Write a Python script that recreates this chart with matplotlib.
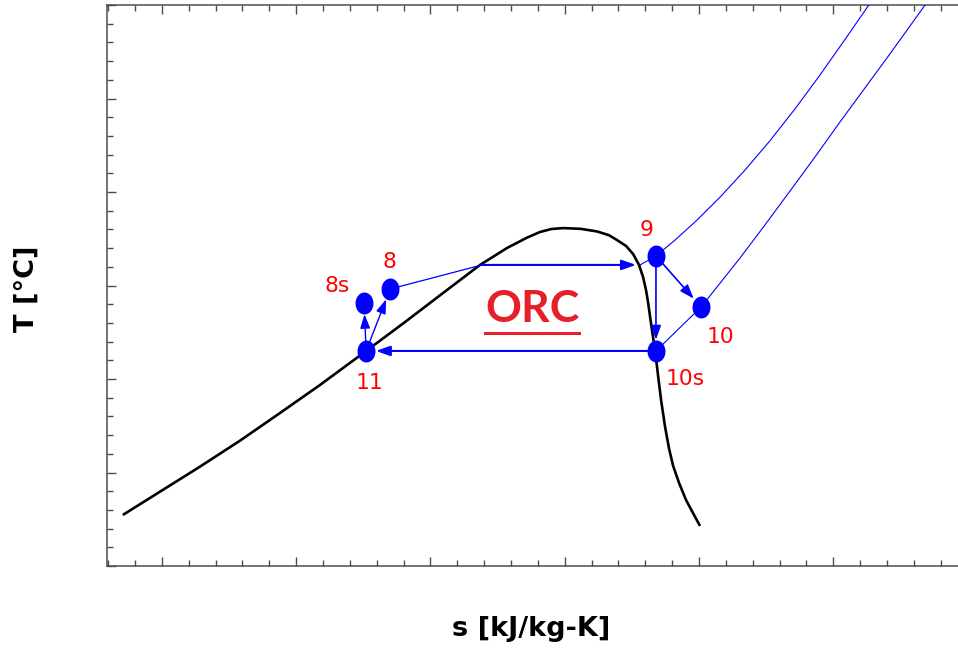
import numpy as np
import matplotlib
matplotlib.use("Agg")
import matplotlib.pyplot as plt
from matplotlib.path import Path
from matplotlib.lines import Line2D
from matplotlib.ticker import FixedLocator, MultipleLocator

# Saturation dome of the working fluid (s in kJ/kg-K, T in degC)
dome_s = [0.355, 0.494, 0.643, 0.792, 0.940, 1.089, 1.261, 1.406, 1.562, 1.685,
          1.786, 1.860, 1.908, 1.950, 1.994, 2.060, 2.121, 2.165, 2.195, 2.229,
          2.255, 2.277, 2.292, 2.303, 2.311, 2.325, 2.337, 2.348, 2.359, 2.374,
          2.389, 2.404, 2.426, 2.452, 2.478, 2.504]
dome_T = [27.3, 39.8, 53.2, 67.1, 81.8, 96.8, 115.0, 130.5, 147.6, 161.0,
          170.1, 175.6, 178.6, 180.2, 180.7, 180.3, 178.9, 176.9, 174.3, 171.1,
          166.8, 161.0, 154.5, 147.6, 140.6, 126.2, 115.0, 101.6, 88.8, 74.3,
          62.6, 53.5, 44.4, 35.3, 28.3, 21.4]

# Cycle state points
states = ["8s", "8", "9", "10", "10s", "11"]
state_s = [1.253, 1.350, 2.340, 2.508, 2.340, 1.261]
state_T = [140.6, 148.1, 165.8, 138.5, 115.0, 115.0]

# Evaporator pressure: saturated liquid / saturated vapour points
evap_s = [1.692, 2.281]
evap_T = [161.0, 161.0]

# High-pressure isobar in the superheated region, from sat. vapour through 9
hp_s = [2.281, 2.340, 2.411, 2.493, 2.579, 2.672, 2.765, 2.858, 2.951, 3.044,
        3.137, 3.159]
hp_T = [161.0, 165.8, 174.3, 185.0, 197.3, 211.8, 227.5, 244.5, 262.6, 281.6,
        300.9, 305.3]

# Condenser-pressure isobar from 10s through 10 into the superheated region
lp_s = [2.340, 2.508, 2.579, 2.653, 2.746, 2.839, 2.932, 3.025, 3.118, 3.211,
        3.342, 3.368]
lp_T = [115.0, 138.5, 151.3, 164.7, 182.4, 200.5, 218.7, 237.4, 255.6, 273.8,
        300.0, 305.3]

x_major = [0.5, 1.0, 1.5, 2.0, 2.5, 3.0, 3.5]

BLUE = "#0000FF"
RED = "#FF0000"
ORC_RED = "#E6202A"

fig = plt.figure(figsize=(9.58, 6.48), dpi=100)
W, H = 958, 648
ax = fig.add_axes([107 / W, (H - 566) / H, (967.5 - 107) / W, (566 - 5) / H])
ax.set_xlim(0.296, 3.5)
ax.set_ylim(0, 300)

# Axis frame and ticks
for sp in ax.spines.values():
    sp.set_color("#4d4d4d")
    sp.set_linewidth(1.1)
ax.xaxis.set_major_locator(FixedLocator(x_major))
ax.xaxis.set_minor_locator(MultipleLocator(0.1))
ax.yaxis.set_major_locator(MultipleLocator(50))
ax.yaxis.set_minor_locator(MultipleLocator(10))
ax.tick_params(which="both", direction="in", top=True, right=True,
               labelbottom=False, labelleft=False, color="#4d4d4d", width=1.0)
ax.tick_params(which="major", length=6.5)
ax.tick_params(which="minor", length=4.3)

ax.set_xlabel("s [kJ/kg-K]", fontsize=19.5, fontweight="bold", family="DejaVu Sans")
ax.set_ylabel("T [°C]", fontsize=19.5, fontweight="bold", family="DejaVu Sans")
ax.xaxis.label.set_va("center")
ax.yaxis.label.set_va("center")
ax.xaxis.set_label_coords((531 - 107) / 860.5, (566 - 629) / 561)
ax.yaxis.set_label_coords((27 - 107) / 860.5, (566 - 289) / 561)

# Saturation dome
ax.plot(dome_s, dome_T, color="black", lw=1.9, solid_capstyle="butt",
        solid_joinstyle="round", zorder=3)

# Pump exit -> saturated liquid (liquid heating)
ax.plot([state_s[1], evap_s[0]], [state_T[1], evap_T[0]], color=BLUE, lw=0.9, zorder=4)
# Superheated portions of both isobars
ax.plot(hp_s, hp_T, color=BLUE, lw=0.8, zorder=4, solid_joinstyle="round")
ax.plot(lp_s, lp_T, color=BLUE, lw=0.8, zorder=4, solid_joinstyle="round")


def arrow(s0, T0, s1, T1, lw=1.0, shrinkB=8):
    ax.annotate("", xy=(s1, T1), xytext=(s0, T0),
                arrowprops=dict(arrowstyle="-|>,head_length=0.85,head_width=0.3",
                                color=BLUE, lw=lw, shrinkA=0, shrinkB=shrinkB,
                                mutation_scale=10),
                zorder=5)


pt = dict(zip(states, zip(state_s, state_T)))
# Evaporation
arrow(evap_s[0], evap_T[0], evap_s[1], evap_T[1], lw=1.5, shrinkB=3)
# Pumps (isentropic and actual)
arrow(*pt["11"], *pt["8s"], lw=1.0, shrinkB=8)
arrow(*pt["11"], *pt["8"], lw=1.0, shrinkB=8)
# Expanders (actual and isentropic)
arrow(*pt["9"], *pt["10"], lw=1.2, shrinkB=8)
arrow(*pt["9"], *pt["10s"], lw=1.2, shrinkB=8)
# Condensation
arrow(*pt["10s"], *pt["11"], lw=1.5, shrinkB=7)

# Elliptical state markers
t = np.linspace(0, 2 * np.pi, 60)
ellipse = Path(np.column_stack([9 * np.cos(t), 11 * np.sin(t)]), closed=True)
ax.plot(state_s, state_T, ls="none", marker=ellipse, markersize=15.8,
        color=BLUE, markeredgewidth=0, zorder=6)

# State labels
label_offsets = {"8s": (-19.4, 12.2), "8": (-0.7, 19.4), "9": (-6.5, 18.7),
                 "10": (13.7, -21.6), "10s": (20.9, -20.2), "11": (2.2, -23.0)}
for name, s, T in zip(states, state_s, state_T):
    ax.annotate(name, xy=(s, T), xytext=label_offsets[name], textcoords="offset points",
                ha="center", va="center", color=RED, fontsize=15.7,
                family="DejaVu Sans", zorder=7)

# Cycle name, underlined
orc = ax.text(0.494, 0.458, "ORC", transform=ax.transAxes, ha="center", va="center",
              color=ORC_RED, fontsize=32, fontweight="bold", family="Lato", zorder=7)
fig.canvas.draw()
bb = orc.get_window_extent(renderer=fig.canvas.get_renderer())
uy = (H - 333) / H
fig.add_artist(Line2D([bb.x0 / W, bb.x1 / W], [uy, uy], color=ORC_RED, lw=2.2,
                      transform=fig.transFigure))

fig.savefig("out.png", dpi=100)
